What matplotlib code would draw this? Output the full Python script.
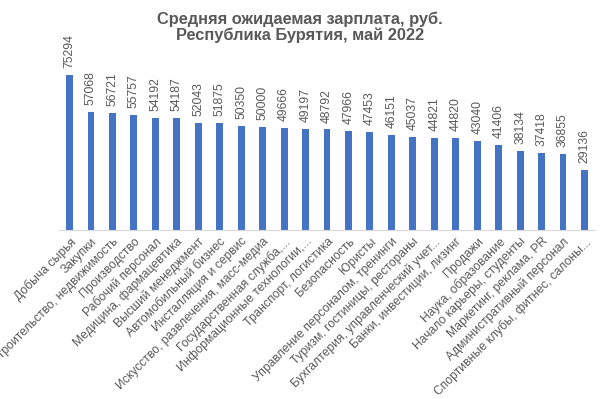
import matplotlib.pyplot as plt

plt.rcParams['font.family'] = ['Liberation Sans', 'DejaVu Sans']

categories = [
    "Добыча сырья", "Закупки", "Строительство, недвижимость", "Производство",
    "Рабочий персонал", "Медицина, фармацевтика", "Высший менеджмент",
    "Автомобильный бизнес", "Инсталляция и сервис",
    "Искусство, развлечения, масс-медиа", "Государственная служба,...",
    "Информационные технологии,...", "Транспорт, логистика", "Безопасность",
    "Юристы", "Управление персоналом, тренинги", "Туризм, гостиницы, рестораны",
    "Бухгалтерия, управленческий учет...", "Банки, инвестиции, лизинг",
    "Продажи", "Наука, образование", "Начало карьеры, студенты",
    "Маркетинг, реклама, PR", "Административный персонал",
    "Спортивные клубы, фитнес, салоны...",
]
salary = [75294, 57068, 56721, 55757, 54192, 54187, 52043, 51875, 50350, 50000,
          49666, 49197, 48792, 47966, 47453, 46151, 45037, 44821, 44820, 43040,
          41406, 38134, 37418, 36855, 29136]

text_color = '#595959'

fig = plt.figure(figsize=(6, 3.99), dpi=100)
ax = fig.add_axes([0.098, 0.4236, 0.894, 0.413])

x = range(len(categories))
ax.bar(x, salary, width=0.32, color='#4472C4')
for i, v in zip(x, salary):
    ax.annotate(str(v), (i, v), xytext=(0, 5), textcoords='offset points',
                rotation=90, ha='center', va='bottom',
                fontsize=8.7, color=text_color)

ax.set_xlim(-0.5, len(categories) - 0.5)
ax.set_ylim(0, 80000)
ax.set_yticks([])
ax.set_xticks(list(x))
ax.set_xticklabels(categories, rotation=45, ha='right', rotation_mode='anchor',
                   fontsize=8.7, color=text_color)
ax.tick_params(axis='x', length=0, pad=4)
for s in ['top', 'right', 'left']:
    ax.spines[s].set_visible(False)
ax.spines['bottom'].set_color('#d9d9d9')

fig.suptitle("Средняя ожидаемая зарплата, руб.\nРеспублика Бурятия, май 2022",
             y=0.972, fontsize=11.8, fontweight='bold', color=text_color,
             linespacing=1.1)

fig.savefig("out.png")
